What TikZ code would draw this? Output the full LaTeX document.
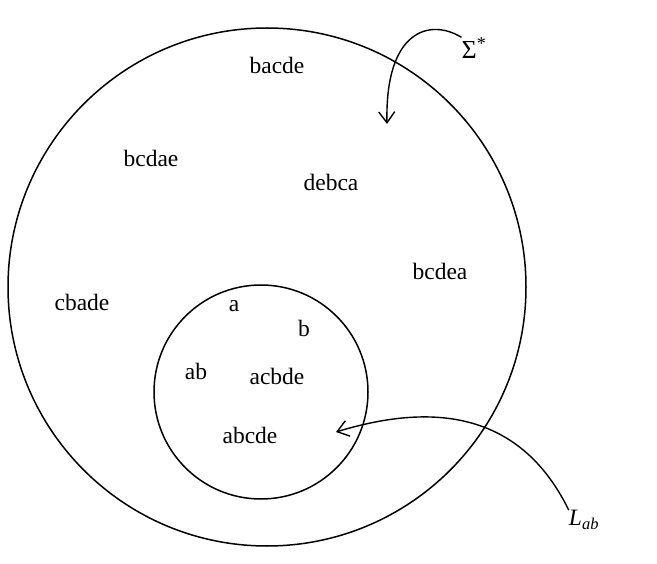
\documentclass[tikz,border=0pt]{standalone}
\usepackage{fontspec}
\setmainfont{Liberation Serif}
\usetikzlibrary{arrows.meta}
\begin{document}
\begin{tikzpicture}[x=1pt,y=-1pt,
  lbl/.style={inner sep=0pt,font=\fontsize{23.5}{28}\selectfont},
  ring/.style={draw,line width=1.5pt},
  pointer/.style={draw,line width=1.4pt,-{Straight Barb[length=11pt,width=16pt,line width=1.4pt]}}]
\useasboundingbox (0,0) rectangle (657,564);
\fill[white] (0,0) rectangle (657,564);
\draw[ring] (267,287) circle[radius=259];
\draw[ring] (261,392) circle[radius=107];
\node[lbl] (w1) at (277,65) {bacde};
\node[lbl] (w2) at (151,158) {bcdae};
\node[lbl] (w3) at (331,182) {debca};
\node[lbl] (w4) at (440,271) {bcdea};
\node[lbl] (w5) at (82,302) {cbade};
\node[lbl] (w6) at (234,306) {a};
\node[lbl] (w7) at (304,328) {b};
\node[lbl] (w8) at (196,371) {ab};
\node[lbl] (w9) at (277,376) {acbde};
\node[lbl] (w10) at (250,435) {abcde};
\node[lbl,font=\fontsize{26}{30}\selectfont] (sig) at (474,48) {Σ\textsuperscript{*}};
\node[lbl] (lab) at (584,520) {\textit{L}\textsubscript{\textit{ab}}};
\coordinate (sigtip) at (387,124);
\coordinate (labtip) at (336,432);
\draw[pointer] (sig.north west) .. controls (430,18) and (385,30) .. (sigtip);
\draw[pointer] (lab.north west) .. controls (515,400) and (415,408) .. (labtip);
\end{tikzpicture}
\end{document}
